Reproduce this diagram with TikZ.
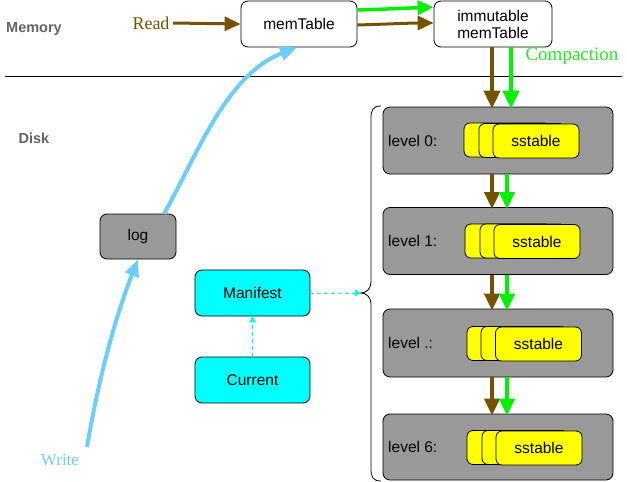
\documentclass[tikz,border=0pt]{standalone}
\usepackage{fontspec}
\setmainfont{Liberation Sans}
\newfontfamily\handfont{Liberation Serif}
\usetikzlibrary{arrows.meta,calc}
\definecolor{brn}{RGB}{115,82,0}
\definecolor{grn}{RGB}{0,240,0}
\definecolor{cgrn}{RGB}{40,235,40}
\definecolor{skyb}{RGB}{110,205,255}
\definecolor{cyn}{RGB}{0,255,255}
\definecolor{gry}{RGB}{153,153,153}
\definecolor{yel}{RGB}{255,255,0}
\definecolor{lbl}{RGB}{100,100,100}
\begin{document}
\begin{tikzpicture}[x=1pt,y=-1pt,
  boxbase/.style={draw, line width=0.8pt, rounded corners=7pt, align=center,
    font=\fontsize{15.5}{17}\selectfont, inner sep=0pt},
  whitebox/.style={boxbase, fill=white, minimum width=116pt, minimum height=46pt},
  graybox/.style={boxbase, fill=gry},
  cyanbox/.style={boxbase, fill=cyn, minimum width=115pt, minimum height=46pt},
  levelbox/.style={draw, line width=0.8pt, rounded corners=7pt, fill=gry,
    minimum width=230pt, minimum height=67pt, inner sep=0pt},
  levellabel/.style={anchor=west, font=\fontsize{15.5}{17}\selectfont, inner sep=0pt},
  sst/.style={draw, line width=0.8pt, rounded corners=6pt, fill=yel,
    minimum width=86pt, minimum height=34pt, inner sep=0pt,
    font=\fontsize{15.5}{17}\selectfont},
  sectlabel/.style={font=\fontsize{14.5}{16}\selectfont\bfseries, text=lbl},
  brnarrow/.style={draw=brn, line width=4pt, -{Triangle[length=18pt,width=16pt]}},
  grnarrow/.style={draw=grn, line width=4pt, -{Triangle[length=18pt,width=16pt]}},
  readarrow/.style={draw=brn, line width=3pt, -{Triangle[length=16pt,width=14pt]}},
  toparrowg/.style={draw=grn, line width=3.5pt, -{Triangle[length=16pt,width=14pt]}},
  blarrow/.style={draw=skyb, line width=4pt, -{Triangle[length=17pt,width=14pt]}},
  dasharrow/.style={draw=cyn, line width=1pt, dash pattern=on 4pt off 3pt,
    -{Triangle[length=6pt,width=7pt]}},
]
\useasboundingbox (0,0) rectangle (627,482);

% section labels and divider
\node[sectlabel] (memory) at (34,29) {Memory};
\node[sectlabel] (disk) at (34,138) {Disk};
\coordinate (divl) at (5,76);
\coordinate (divr) at (622,76);
\draw[line width=0.8pt] (divl) -- (divr);

% memory nodes
\node[whitebox] (mem) at (299,24) {memTable};
\node[whitebox, minimum width=118pt] (imm) at (493,24) {immutable\\memTable};
\node[text=brn, font=\fontsize{18}{20}\selectfont\handfont] (read) at (151,23) {Read};
\node[text=cgrn, font=\fontsize{19}{21}\selectfont\handfont] (comp) at (572,56) {Compaction};

% disk nodes
\node[graybox, minimum width=76pt, minimum height=45pt] (log) at (138,236.5) {log};
\node[cyanbox] (man) at (252.5,293) {Manifest};
\node[cyanbox] (cur) at (252.5,380) {Current};
\node[text=skyb, font=\fontsize{17}{19}\selectfont\handfont] (write) at (60,460) {Write};

% levels
\node[levelbox] (L0) at (498,140.5) {};
\node[levelbox] (L1) at (498,241) {};
\node[levelbox, minimum height=68pt] (L2) at (498,343) {};
\node[levelbox, minimum height=66pt] (L3) at (498,447) {};

\node[levellabel] (l0t) at (388,141) {level 0:};
\node[levellabel] (l1t) at (388,241) {level 1:};
\node[levellabel] (l2t) at (388,343) {level .:};
\node[levellabel] (l3t) at (388,447) {level 6:};

\node[sst] (s0a) at (507,140) {};
\node[sst] (s0b) at (522,140.5) {};
\node[sst] (s0c) at (536,141) {sstable};
\node[sst] (s1a) at (508,241) {};
\node[sst] (s1b) at (523,241) {};
\node[sst] (s1c) at (537,241.5) {sstable};
\node[sst] (s2a) at (510,343.5) {};
\node[sst] (s2b) at (524,343.5) {};
\node[sst] (s2c) at (538.5,344) {sstable};
\node[sst] (s3a) at (510,447.5) {};
\node[sst] (s3b) at (525,447.5) {};
\node[sst] (s3c) at (539,448) {sstable};

% brace
\coordinate (bracetip) at (361,293);
\draw[line width=0.8pt] (381,106) .. controls (373,106) and (371,110) .. (371,118)
  -- (371,282) .. controls (371,289) and (366,293) .. (bracetip)
  .. controls (366,293) and (371,297) .. (371,304)
  -- (371,469) .. controls (371,477) and (373,481) .. (381,481);

% read arrow
\draw[readarrow] (read.east) -- (mem.west);

% memTable -> immutable
\draw[toparrowg] ($(mem.east)+(0,-14)$) .. controls (390,9) and (410,8) .. ($(imm.west)+(0,-17)$);
\draw[readarrow] ($(mem.east)+(0,1)$) .. controls (390,24) and (410,23) .. ($(imm.west)+(0,-1)$);

% immutable -> level 0
\coordinate (bx) at (492,0);
\coordinate (gx) at (511,0);
\draw[brnarrow] (imm.south -| bx) -- ([yshift=-2pt]L0.north -| bx);
\draw[grnarrow] (imm.south -| gx) -- ([yshift=-2pt]L0.north -| gx);

% between levels
\coordinate (bx2) at (492,0);
\coordinate (gx2) at (507,0);
\foreach \a/\b in {L0/L1, L1/L2, L2/L3}{
  \draw[brnarrow, -{Triangle[length=17pt,width=15pt]}] (\a.south -| bx2) -- ([yshift=-2pt]\b.north -| bx2);
  \draw[grnarrow, -{Triangle[length=17pt,width=15pt]}] (\a.south -| gx2) -- ([yshift=-2pt]\b.north -| gx2);
}

% write path
\coordinate (wstart) at (87,447);
\draw[blarrow] (wstart) .. controls (100,370) and (118,310) .. (log.south);
\draw[blarrow] ($(log.north)+(26,0)$) .. controls (195,160) and (225,75) .. ($(mem.south)+(-2,0)$);

% dashed arrows
\draw[dasharrow] (man.east) -- (bracetip);
\draw[dasharrow] (cur.north) -- (man.south);
\end{tikzpicture}
\end{document}
